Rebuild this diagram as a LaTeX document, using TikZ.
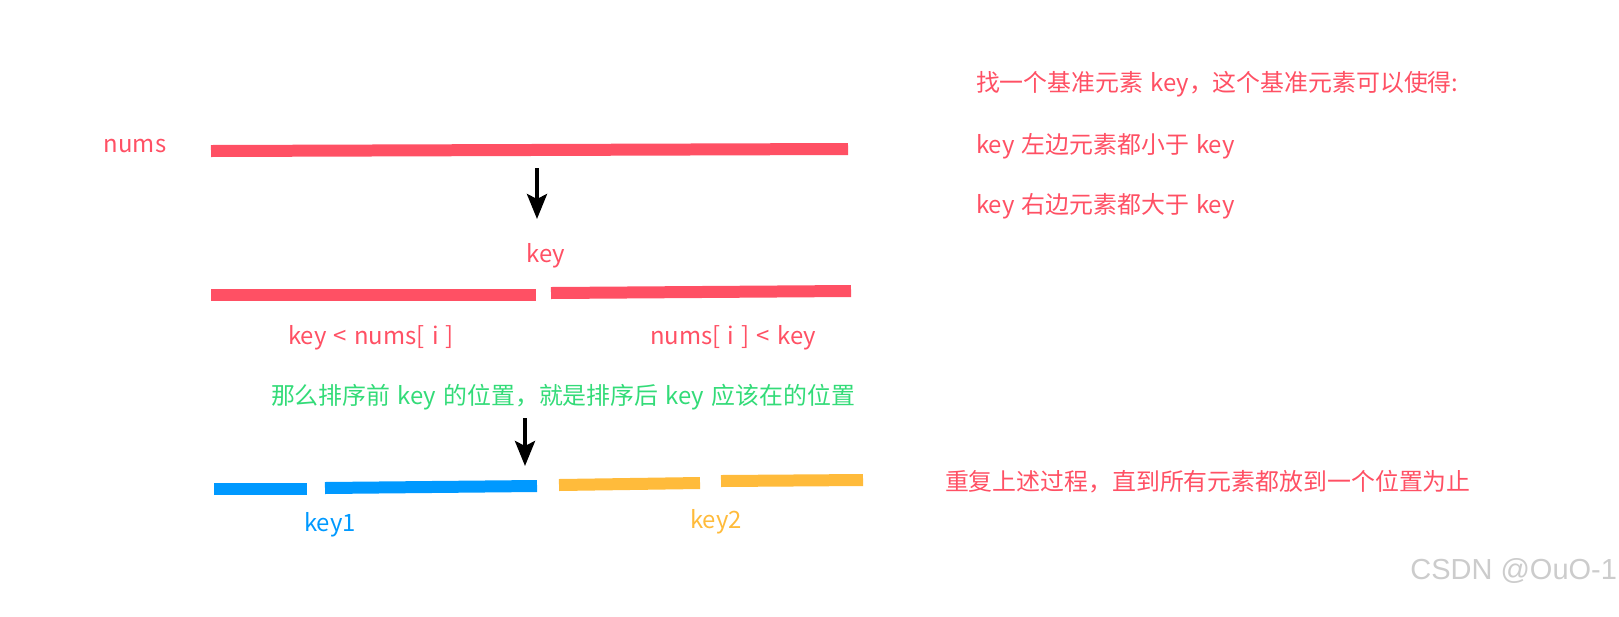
\documentclass[tikz,border=0pt]{standalone}
\usepackage{fontspec}
\usepackage{tikz}
\usetikzlibrary{arrows.meta,positioning}
\newfontfamily\cjk[WordSpace=1.35]{Noto Sans CJK SC}
\newfontfamily\wmfont{Liberation Sans}
\definecolor{keyred}{HTML}{FF5064}
\definecolor{keygreen}{HTML}{33DB78}
\definecolor{keyblue}{HTML}{0099FF}
\definecolor{keyorange}{HTML}{FFBB3B}
\tikzstyle{bar}   =[line width=0.24cm]
\tikzstyle{pick}  =[-{Stealth[length=0.5cm,width=0.4cm,inset=0.1cm]},
                    line width=0.08cm, black]
\tikzstyle{label} =[font=\cjk\fontsize{13.6pt}{16pt}\selectfont,
                    inner sep=0pt, outer sep=0pt]

\begin{document}
\begin{tikzpicture}[x=0.02cm, y=-0.02cm, every node/.style={label}]
    \useasboundingbox (0,0) rectangle (1619,616);

    % the whole array
    \node[keyred] (nums) at (135,146) {nums};
    \draw[bar, keyred] (211,151) -- (848,149);

    \coordinate (p1s) at (537,168);
    \coordinate (p1e) at (537,219);
    \draw[pick] (p1s) -- (p1e);

    % split around key
    \node[keyred] (key) at (546,256) {key};
    \draw[bar, keyred] (211,295) -- (536,295);
    \draw[bar, keyred] (551,293) -- (851,291);
    \node[keyred] (lt) at (371,338) {key < nums[ i ]};
    \node[keyred] (gt) at (733,338) {nums[ i ] < key};

    \node[keygreen] (pos) at (563,397)
        {那么排序前 key 的位置，就是排序后 key 应该在的位置};

    \coordinate (p2s) at (525,418);
    \coordinate (p2e) at (525,466);
    \draw[pick] (p2s) -- (p2e);

    % recursion on both halves
    \draw[bar, keyblue] (214,489) -- (307,489);
    \draw[bar, keyblue] (325,488) -- (537,486);
    \draw[bar, keyorange] (559,485) -- (700,483);
    \draw[bar, keyorange] (721,481) -- (863,480);
    \node[keyblue] (k1) at (330,525) {key1};
    \node[keyorange] (k2) at (716,522) {key2};

    % notes
    \node[keyred, anchor=west] (n1) at (976,84)
        {找一个基准元素 key，这个基准元素可以使得:};
    \node[keyred, anchor=west] (n2) at (976,146) {key 左边元素都小于 key};
    \node[keyred, anchor=west] (n3) at (976,206) {key 右边元素都大于 key};
    \node[keyred, anchor=west] (n4) at (945,482)
        {重复上述过程，直到所有元素都放到一个位置为止};

    \node[font=\wmfont\fontsize{16.5pt}{19pt}\selectfont, black!20, anchor=east]
        (wm) at (1617,571) {CSDN @OuO-1};
\end{tikzpicture}
\end{document}
